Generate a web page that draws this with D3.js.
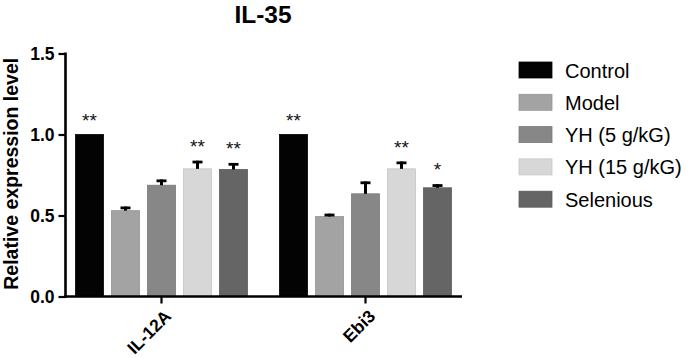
<!DOCTYPE html>
<html>
<head>
<meta charset="utf-8">
<script src="https://cdn.jsdelivr.net/npm/d3@7"></script>
<style>
  html, body { margin: 0; padding: 0; background: #fff; }
  svg { display: block; font-family: "Liberation Sans", Arial, sans-serif; }
</style>
</head>
<body>
<svg id="chart" width="692" height="358"></svg>
<script>
// ---- data ----
const title = "IL-35";
const categories = ["IL-12A", "Ebi3"];
const seriesNames = ["Control", "Model", "YH (5 g/kG)", "YH (15 g/kG)", "Selenious"];
const seriesColors = ["#030303", "#a3a3a3", "#878787", "#d7d7d7", "#656565"];
const controlValues   = [1.00, 1.00];
const modelValues     = [0.53, 0.494];
const yh5Values       = [0.687, 0.634];
const yh15Values      = [0.788, 0.788];
const seleniousValues = [0.784, 0.671];
const controlErr   = [0, 0];
const modelErr     = [0.025, 0.017];
const yh5Err       = [0.035, 0.076];
const yh15Err      = [0.05, 0.045];
const seleniousErr = [0.04, 0.022];
const controlSig   = ["**", "**"];
const modelSig     = ["", ""];
const yh5Sig       = ["", ""];
const yh15Sig      = ["**", "**"];
const seleniousSig = ["**", "*"];
const yTicks = [0.0, 0.5, 1.0, 1.5];
const yLabel = "Relative expression level";

const values = [controlValues, modelValues, yh5Values, yh15Values, seleniousValues];
const errs = [controlErr, modelErr, yh5Err, yh15Err, seleniousErr];
const sigs = [controlSig, modelSig, yh5Sig, yh15Sig, seleniousSig];

const rows = [];
categories.forEach((c, ci) => {
  seriesNames.forEach((s, si) => {
    rows.push({cat: c, series: s, si, value: values[si][ci], err: errs[si][ci], sig: sigs[si][ci]});
  });
});

// ---- layout ----
const svg = d3.select("#chart");
const axisX = 65.5, axisEnd = 462, y0px = 296.5, yTop = 53.5;

const y = d3.scaleLinear().domain([0, 1.5]).range([y0px, yTop]);
const x0 = d3.scaleBand().domain(categories).range([59.5, 467.5]).paddingInner(0).paddingOuter(0);
const x1 = d3.scaleBand().domain(seriesNames).range([-90, 90]).paddingInner(0.22).paddingOuter(0.11);
const color = d3.scaleOrdinal().domain(seriesNames).range(seriesColors);

// title
svg.append("text")
  .attr("x", 263).attr("y", 22.5)
  .attr("text-anchor", "middle")
  .attr("font-size", 24.5).attr("font-weight", "bold")
  .text(title);

// bars
const barX = d => x0(d.cat) + x0.bandwidth() / 2 + x1(d.series);
svg.append("g").selectAll("rect").data(rows).join("rect")
  .attr("x", barX)
  .attr("width", x1.bandwidth())
  .attr("y", d => y(d.value))
  .attr("height", d => y(0) - y(d.value))
  .attr("fill", d => color(d.series))
  .attr("stroke", d => d3.color(color(d.series)).darker(0.25))
  .attr("stroke-width", 0.8);

// error bars
const eb = svg.append("g").attr("stroke", "#000");
rows.filter(d => d.err > 0).forEach(d => {
  const cx = barX(d) + x1.bandwidth() / 2;
  eb.append("line")
    .attr("x1", cx).attr("x2", cx)
    .attr("y1", y(d.value)).attr("y2", y(d.value + d.err))
    .attr("stroke-width", 3);
  eb.append("line")
    .attr("x1", cx - 5).attr("x2", cx + 5)
    .attr("y1", y(d.value + d.err) + 1.3).attr("y2", y(d.value + d.err) + 1.3)
    .attr("stroke-width", 2.8);
});

// significance stars
svg.append("g").selectAll("text").data(rows.filter(d => d.sig)).join("text")
  .attr("x", d => barX(d) + x1.bandwidth() / 2)
  .attr("y", d => y(d.value + d.err) - 8)
  .attr("text-anchor", "middle")
  .attr("font-size", 19)
  .attr("fill", "#111")
  .text(d => d.sig);

// y axis
const yAxis = d3.axisLeft(y).tickValues(yTicks).tickFormat(d3.format(".1f")).tickSize(7).tickPadding(4);
const gy = svg.append("g").attr("transform", `translate(${axisX},0)`).call(yAxis);
gy.select(".domain").remove();
gy.selectAll(".tick line").attr("stroke", "#000").attr("stroke-width", 2.2);
gy.selectAll(".tick text")
  .attr("font-size", 17.5).attr("font-weight", "bold")
  .attr("font-family", "Liberation Sans, Arial, sans-serif")
  .attr("fill", "#000").attr("dy", "0.36em");
svg.append("line")
  .attr("x1", axisX).attr("x2", axisX)
  .attr("y1", y(1.5) - 1).attr("y2", y(0) + 1.3)
  .attr("stroke", "#000").attr("stroke-width", 2.6);

// x axis
const xAxis = d3.axisBottom(x0).tickSize(7).tickPadding(4);
const gx = svg.append("g").attr("transform", `translate(0,${y0px})`).call(xAxis);
gx.select(".domain").remove();
gx.selectAll(".tick line").attr("stroke", "#000").attr("stroke-width", 2.2);
gx.selectAll(".tick text")
  .attr("font-size", 17.5).attr("font-weight", "bold")
  .attr("font-family", "Liberation Sans, Arial, sans-serif")
  .attr("fill", "#000")
  .attr("text-anchor", "end")
  .attr("dy", 0)
  .attr("transform", "translate(3,13) rotate(-45)");
svg.append("line")
  .attr("x1", axisX - 1.3).attr("x2", axisEnd)
  .attr("y1", y0px).attr("y2", y0px)
  .attr("stroke", "#000").attr("stroke-width", 2.6);

// y label
svg.append("text")
  .attr("transform", `translate(18,${(y0px + 53) / 2 - 1}) rotate(-90)`)
  .attr("text-anchor", "middle")
  .attr("font-size", 19.5).attr("font-weight", "bold")
  .text(yLabel);

// legend
const lg = svg.append("g").attr("transform", "translate(519,62)");
const li = lg.selectAll("g").data(seriesNames).join("g")
  .attr("transform", (d, i) => `translate(0,${i * 32.3})`);
li.append("rect")
  .attr("width", 33).attr("height", 16)
  .attr("fill", d => color(d))
  .attr("stroke", d => d3.color(color(d)).darker(0.25))
  .attr("stroke-width", 0.8);
li.append("text")
  .attr("x", 46).attr("y", 15.5)
  .attr("font-size", 20)
  .attr("fill", "#000")
  .text(d => d);
</script>
</body>
</html>
